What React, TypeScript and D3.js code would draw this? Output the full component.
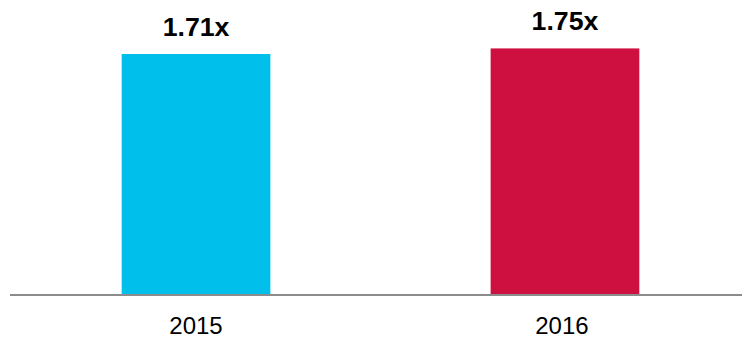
import React from "react";
import * as d3 from "d3";

const categories = ["2015", "2016"];
const values = [1.71, 1.75];
const valueLabels = ["1.71x", "1.75x"];
const colors = ["#00BFEB", "#CE1040"];

const W = 742;
const H = 338;
const baseY = 294;

export default function App() {
  const x = d3
    .scaleBand<string>()
    .domain(categories)
    .range([11, 750])
    .paddingInner(0.597)
    .paddingOuter(0.3);
  const y = d3.scaleLinear().domain([0, 2.095]).range([baseY, 0]);
  const font = "Arial, 'Liberation Sans', Helvetica, sans-serif";

  return (
    <svg
      width={W}
      height={H}
      style={{ position: "absolute", left: 0, top: 0, background: "#fff" }}
    >
      {categories.map((c, i) => {
        const bx = x(c) as number;
        const bw = x.bandwidth();
        const top = y(values[i]);
        return (
          <g key={c}>
            <rect x={bx} y={top} width={bw} height={baseY - top} fill={colors[i]} />
            <text
              x={bx + bw / 2}
              y={top - 18.5}
              textAnchor="middle"
              fontFamily={font}
              fontWeight="bold"
              fontSize={26.7}
              fill="#000"
            >
              {valueLabels[i]}
            </text>
            <text
              x={bx + bw / 2 - (i === 1 ? 3 : 0)}
              y={baseY + 40}
              textAnchor="middle"
              fontFamily={font}
              fontSize={24}
              fill="#000"
            >
              {c}
            </text>
          </g>
        );
      })}
      <line x1={10} x2={W} y1={baseY + 1} y2={baseY + 1} stroke="#8C8C8C" strokeWidth={2} />
    </svg>
  );
}
